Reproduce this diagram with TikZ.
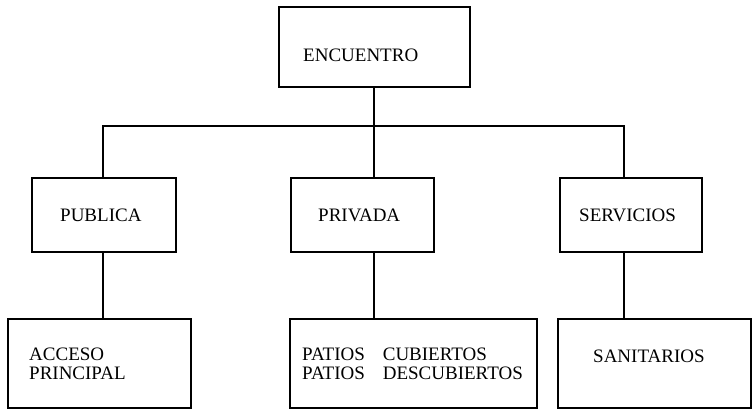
\documentclass[tikz,border=0pt]{standalone}
\usepackage{fontspec}
\setmainfont{Liberation Serif}
\usetikzlibrary{positioning}
\begin{document}
\begin{tikzpicture}[x=1pt,y=-1pt,
	box/.style={rectangle,draw=black,line width=1.2pt,inner sep=0pt},
	txt/.style={anchor=west,inner sep=0pt,align=left,font=\fontsize{19}{19}\selectfont},
	link/.style={draw=black,line width=1.2pt}]
	\useasboundingbox (0,0) rectangle (752,411);
	% boxes
	\node[box,minimum width=191pt,minimum height=80pt] (enc) at (374.5,47) {};
	\node[box,minimum width=144pt,minimum height=74pt] (pub) at (104,215) {};
	\node[box,minimum width=143pt,minimum height=74pt] (pri) at (362.5,215) {};
	\node[box,minimum width=142pt,minimum height=74pt] (ser) at (631,215) {};
	\node[box,minimum width=183pt,minimum height=89pt] (acc) at (99.5,363.5) {};
	\node[box,minimum width=247pt,minimum height=89pt] (pat) at (413.5,363.5) {};
	\node[box,minimum width=193pt,minimum height=89pt] (san) at (654.5,363.5) {};
	% texts
	\node[txt] (enc-t) at (303,55) {ENCUENTRO};
	\node[txt] (pub-t) at (60,215) {PUBLICA};
	\node[txt] (pri-t) at (318,215) {PRIVADA};
	\node[txt] (ser-t) at (579,215) {SERVICIOS};
	\node[txt] (acc-t) at (29,364) {ACCESO\\PRINCIPAL};
	\node[txt] (pat-t) at (302,364) {PATIOS\hspace{18pt}CUBIERTOS\\PATIOS\hspace{18pt}DESCUBIERTOS};
	\node[txt] (san-t) at (593,356) {SANITARIOS};
	% connectors
	\coordinate (busL) at (103,126);
	\coordinate (busM) at (374,126);
	\coordinate (busR) at (624,126);
	\draw[link] (busM |- enc.south) -- (busM |- pri.north);
	\draw[link] (busL |- pub.north) -- (busL) -- (busR) -- (busR |- ser.north);
	\foreach \c/\a/\b in {busL/pub/acc,busM/pri/pat,busR/ser/san}
		\draw[link] (\c |- \a.south) -- (\c |- \b.north);
\end{tikzpicture}
\end{document}
